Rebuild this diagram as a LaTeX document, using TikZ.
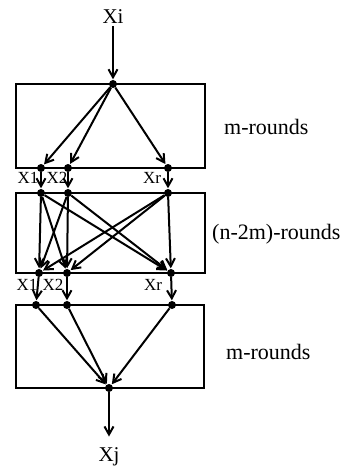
\documentclass[tikz,border=0pt]{standalone}
\usepackage{fontspec}
\setmainfont{Liberation Serif}
\usetikzlibrary{arrows.meta}
\begin{document}
\begin{tikzpicture}[x=1pt,y=-1pt,
  dot/.style={circle,fill=black,inner sep=0pt,minimum size=8pt},
  box/.style={draw,line width=1.8pt},
  arr/.style={line width=2pt,-{Straight Barb[length=8pt,width=9pt,line width=2pt]},shorten >=0.5pt},
  lbl/.style={font=\fontsize{21}{23}\selectfont,inner sep=0pt},
  sm/.style={font=\fontsize{17}{19}\selectfont,inner sep=0pt},
  rl/.style={font=\fontsize{22}{24}\selectfont,inner sep=0pt,anchor=west}]
\useasboundingbox (0,0) rectangle (343,468);
\fill[white] (0,0) rectangle (343,468);
% boxes
\draw[box] (16,84) rectangle (205,168);
\draw[box] (16,193) rectangle (205,273);
\draw[box] (16,305) rectangle (204,388);
% dots
\node[dot] (t) at (113,84) {};
\node[dot] (a1) at (41,168) {};
\node[dot] (a2) at (68,168) {};
\node[dot] (ar) at (168,168) {};
\node[dot] (b1) at (41,193) {};
\node[dot] (b2) at (68,193) {};
\node[dot] (br) at (168,193) {};
\node[dot] (c1) at (39,273) {};
\node[dot] (c2) at (67,273) {};
\node[dot] (cr) at (171,273) {};
\node[dot] (d1) at (36,305) {};
\node[dot] (d2) at (67,305) {};
\node[dot] (dr) at (172,305) {};
\node[dot] (e) at (109,388) {};
% texts
\node[lbl] (xi) at (113,17) {Xi};
\node[lbl] (xj) at (109,457) {Xj};
\node[sm] (l1) at (28,178) {X1};
\node[sm] (l2) at (57,178) {X2};
\node[sm] (lr) at (152,178) {Xr};
\node[sm] (m1) at (27,285) {X1};
\node[sm] (m2) at (53,285) {X2};
\node[sm] (mr) at (153,285) {Xr};
\node[rl] (r1) at (224,127) {m-rounds};
\node[rl] (r2) at (212,234) {(n-2m)-rounds};
\node[rl] (r3) at (226,352) {m-rounds};
% connectors
\draw[arr] (xi.south) ++(0,2) -- (t);
\foreach \n in {a1,a2,ar} \draw[arr] (t) -- (\n);
\draw[arr] (a1) -- (b1);
\draw[arr] (a2) -- (b2);
\draw[arr] (ar) -- (br);
\foreach \s in {b1,b2,br} \foreach \d in {c1,c2,cr} \draw[arr] (\s) -- (\d);
\draw[arr] (c1) -- (d1);
\draw[arr] (c2) -- (d2);
\draw[arr] (cr) -- (dr);
\foreach \n in {d1,d2,dr} \draw[arr] (\n) -- (e);
\coordinate (xe) at (109,437);
\draw[arr] (e) -- (xe);
\end{tikzpicture}
\end{document}
